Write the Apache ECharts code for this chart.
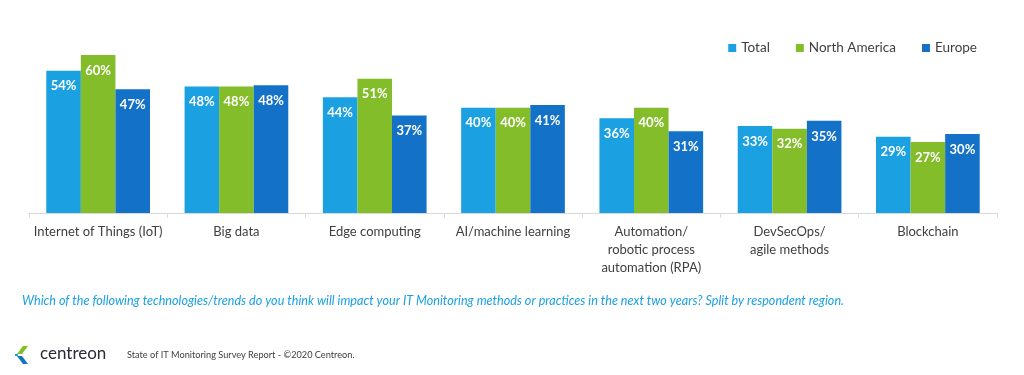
<!DOCTYPE html>
<html lang="en">
<head>
    <meta charset="UTF-8">
    <title>IT Monitoring technologies</title>
    <script type="text/javascript" src="https://cdn.jsdelivr.net/npm/echarts@6/dist/echarts.min.js"></script>
    <style>
        html, body { margin: 0; padding: 0; background: #fff; }
    </style>
</head>
<body>
    <div id="main" style="width: 1024px; height:375px;"></div>
    <script type="text/javascript">
        var categories = [
            'Internet of Things (IoT)',
            'Big data',
            'Edge computing',
            'AI/machine learning',
            'Automation/\nrobotic process\nautomation (RPA)',
            'DevSecOps/\nagile methods',
            'Blockchain'
        ];
        var total = [54, 48, 44, 40, 36, 33, 29];
        var northAmerica = [60, 48, 51, 40, 40, 32, 27];
        var europe = [47, 48.5, 37, 41, 31, 35, 30];
        var europeLabels = [47, 48, 37, 41, 31, 35, 30];

        var chartDom = document.getElementById('main');
        var myChart = echarts.init(chartDom);
        var option;

        var font = 'Lato';

        function makeSeries(name, values, color, labels) {
            return {
                name: name,
                type: 'bar',
                data: values,
                barGap: '0%',
                barCategoryGap: '25%',
                itemStyle: { color: color },
                label: {
                    show: true,
                    position: 'insideTop',
                    distance: 9,
                    color: '#fff',
                    fontFamily: font,
                    fontWeight: 'bold',
                    fontSize: 13,
                    formatter: function(p) {
                        var v = labels ? labels[p.dataIndex] : p.value;
                        return Math.round(v) + '%';
                    }
                }
            };
        }

        option = {
            animation: false,
            textStyle: { fontFamily: font },
            legend: {
                top: 36,
                right: 42,
                itemWidth: 8,
                itemHeight: 8,
                itemGap: 26,
                icon: 'rect',
                textStyle: { color: '#404040', fontSize: 13.5, fontFamily: font }
            },
            grid: {
                left: 29,
                right: 27,
                top: 55,
                bottom: 162,
                containLabel: false
            },
            xAxis: {
                type: 'category',
                data: categories,
                axisLine: { lineStyle: { color: '#d9d9d9', width: 1 } },
                axisTick: { show: true, length: 5, lineStyle: { color: '#d9d9d9' } },
                axisLabel: {
                    interval: 0,
                    color: '#404040',
                    fontSize: 13,
                    lineHeight: 18,
                    margin: 10,
                    fontFamily: font
                }
            },
            yAxis: {
                type: 'value',
                min: 0,
                max: 60,
                show: false,
                splitLine: { show: false }
            },
            graphic: [
                {
                    type: 'text',
                    left: 22,
                    top: 294,
                    style: {
                        text: 'Which of the following technologies/trends do you think will impact your IT Monitoring methods or practices in the next two years? Split by respondent region.',
                        fill: '#1ba1e2',
                        font: 'italic 12.6px Lato'
                    }
                },
                {
                    type: 'group',
                    left: 15,
                    top: 346,
                    children: [
                        { type: 'polygon', shape: { points: [[8, 0], [13, 0], [7, 8], [2, 8]] }, style: { fill: '#84bd2a' } },
                        { type: 'polygon', shape: { points: [[2, 10], [7, 10], [13, 18], [8, 18]] }, style: { fill: '#1372c8' } },
                        { type: 'rect', shape: { x: 0, y: 8, width: 3, height: 2 }, style: { fill: '#1ba1e2' } }
                    ]
                },
                {
                    type: 'text',
                    left: 40,
                    top: 345,
                    style: {
                        text: 'centreon',
                        fill: '#2a2a3a',
                        font: '17px Lato'
                    }
                },
                {
                    type: 'text',
                    left: 127,
                    top: 351,
                    style: {
                        text: 'State of IT Monitoring Survey Report - \u00a92020 Centreon.',
                        fill: '#404040',
                        font: '9.2px Lato'
                    }
                }
            ],
            series: [
                makeSeries('Total', total, '#1ba1e2'),
                makeSeries('North America', northAmerica, '#84bd2a'),
                makeSeries('Europe', europe, '#1372c8', europeLabels)
            ]
        };

        option && myChart.setOption(option);
    </script>
</body>
</html>
